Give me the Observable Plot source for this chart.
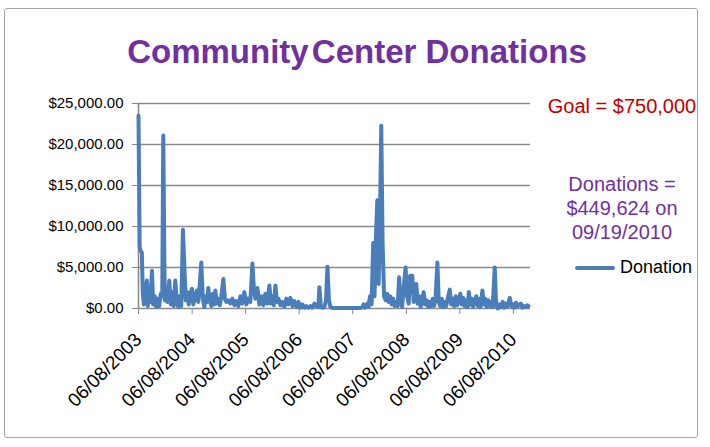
<!DOCTYPE html>
<html>
<head>
<meta charset="utf-8">
<script src="https://cdn.jsdelivr.net/npm/d3@7"></script>
<script src="https://cdn.jsdelivr.net/npm/@observablehq/plot@0.6"></script>
<style>
  html, body { margin: 0; padding: 0; background: #fff; }
  #wrap { position: relative; width: 710px; height: 447px; overflow: hidden; font-family: "Liberation Sans", Arial, sans-serif; }
  #border { position: absolute; left: 4px; top: 8px; width: 694px; height: 430px; border: 1.5px solid #a6a6a6; border-radius: 3px; box-sizing: border-box; }
  #chart { position: absolute; left: 0; top: 0; }
  .txt { position: absolute; white-space: nowrap; text-align: center; line-height: 1; }
  #title { left: 0; width: 714px; top: 35px; font-size: 33px; font-weight: bold; color: #7030A0; }
  #title .w1 { margin-right: -6px; }
  #goal { left: 542px; width: 160px; top: 96px; font-size: 20px; color: #C00000; }
  #don { left: 542px; width: 160px; top: 172px; font-size: 20px; color: #7030A0; line-height: 24px; }
  #legend { position: absolute; left: 575px; top: 257px; font-size: 18px; color: #000; line-height: 20px; }
  #legend span.sw { display: inline-block; width: 40px; height: 4px; background: #4A7EBB; vertical-align: middle; margin-right: 5px; border-radius: 2px; }
</style>
</head>
<body>
<div id="wrap">
  <div id="border"></div>
  <div id="chart"></div>
  <div id="title" class="txt"><span class="w1">Community</span> Center Donations</div>
  <div id="goal" class="txt">Goal = $750,000</div>
  <div id="don" class="txt">Donations =<br>$449,624 on<br>09/19/2010</div>
  <div id="legend"><span class="sw"></span>Donation</div>
</div>
<script>
// First donation date; each donation is given as days elapsed since this date
const firstDonation = "2003-06-08";
const dayOffsets = [
  0, 8, 15, 23, 29, 36, 42, 49, 57, 63, 73, 80, 92, 100, 111, 121, 131, 141, 152, 162,
  169, 179, 186, 196, 210, 220, 230, 240, 251, 261, 271, 281, 292, 303, 312, 322, 333, 343, 353, 365,
  374, 387, 398, 408, 418, 428, 439, 449, 459, 469, 476, 486, 497, 507, 517, 524, 534, 544, 555, 565,
  579, 589, 599, 613, 626, 640, 654, 667, 681, 695, 708, 722, 736, 749, 763, 777, 787, 797, 811, 824,
  838, 852, 865, 879, 893, 903, 913, 923, 934, 944, 954, 968, 981, 995, 1009, 1022, 1036, 1050, 1063, 1077,
  1091, 1104, 1118, 1132, 1145, 1159, 1173, 1186, 1200, 1214, 1227, 1234, 1244, 1255, 1268, 1279, 1289, 1299, 1309, 1323,
  1378, 1446, 1514, 1528, 1535, 1542, 1555, 1562, 1569, 1579, 1590, 1601, 1610, 1620, 1629, 1638, 1648, 1656, 1665, 1675,
  1686, 1696, 1706, 1716, 1727, 1737, 1747, 1757, 1768, 1778, 1788, 1798, 1809, 1822, 1832, 1843, 1853, 1868, 1877, 1895,
  1904, 1914, 1925, 1935, 1945, 1955, 1966, 1976, 1986, 1996, 2007, 2017, 2027, 2039, 2048, 2058, 2068, 2079, 2089, 2099,
  2109, 2123, 2133, 2143, 2154, 2164, 2174, 2184, 2195, 2205, 2215, 2225, 2236, 2246, 2253, 2263, 2273, 2283, 2294, 2304,
  2314, 2324, 2334, 2346, 2355, 2365, 2375, 2386, 2396, 2406, 2416, 2430, 2440, 2451, 2461, 2471, 2485, 2495, 2505, 2515,
  2533, 2543, 2553, 2563, 2574, 2584, 2594, 2608, 2618, 2628, 2642, 2652, 2660
];
const donations = [
  23500, 7500, 7000, 6800, 2000, 500, 3000, 800, 3400, 300, 2000, 800, 4600, 500, 1500, 200, 1200, 300, 1800, 1500,
  21100, 1000, 2500, 800, 3400, 500, 2000, 300, 3400, 1000, 200, 1500, 300, 9600, 5500, 1000, 2000, 500, 1800, 2400,
  500, 1500, 2200, 800, 3000, 5600, 1200, 200, 1500, 800, 2500, 1000, 300, 1800, 500, 2200, 600, 1200, 400, 1500,
  3600, 1200, 800, 1000, 600, 1200, 400, 900, 300, 1500, 600, 2000, 500, 1200, 800, 5500, 2500, 1200, 2500, 500,
  1500, 400, 1800, 600, 2800, 600, 1500, 400, 2800, 800, 1200, 400, 800, 200, 1200, 500, 1300, 300, 900, 200,
  800, 100, 500, 100, 300, 100, 300, 100, 600, 300, 200, 2600, 200, 100, 200, 1000, 5100, 1000, 200, 50,
  50, 50, 50, 200, 500, 100, 300, 600, 200, 1500, 500, 8000, 1500, 9000, 13200, 3000, 12000, 22300, 8000, 1500,
  1000, 1800, 800, 1500, 500, 1200, 300, 800, 300, 3800, 1000, 200, 2500, 5000, 1500, 600, 4000, 4000, 800, 3000,
  600, 1500, 200, 1000, 2000, 500, 1000, 200, 800, 300, 1200, 300, 1500, 5600, 800, 300, 1200, 200, 800, 300,
  1200, 2300, 500, 1200, 300, 1500, 400, 800, 1800, 500, 1300, 300, 1000, 200, 2000, 500, 1200, 200, 1000, 1500,
  300, 1200, 200, 2200, 500, 1200, 200, 1000, 300, 800, 200, 5000, 300, 0, 500, 200, 800, 100, 600, 200,
  1300, 300, 500, 100, 700, 200, 400, 600, 100, 300, 200, 400, 300
];
const yTicks = [0, 5000, 10000, 15000, 20000, 25000];
const xTickLabels = ["06/08/2003", "06/08/2004", "06/08/2005", "06/08/2006", "06/08/2007", "06/08/2008", "06/08/2009", "06/08/2010"];
const axisEnd = "2010-10-03";

const parseMDY = d3.utcParse("%m/%d/%Y");
const start = new Date(firstDonation);
const data = dayOffsets.map((d, i) => ({date: d3.utcDay.offset(start, d), amount: donations[i]}));
const xTicks = xTickLabels.map(parseMDY);

const chart = Plot.plot({
  width: 710,
  height: 447,
  marginLeft: 138,
  marginRight: 180,
  marginTop: 103,
  marginBottom: 139,
  style: {fontFamily: "'Liberation Sans', Arial, sans-serif", fontSize: "15px", color: "#000", background: "transparent", overflow: "visible"},
  x: {type: "utc", domain: [start, new Date(axisEnd)]},
  y: {domain: [0, 25000]},
  marks: [
    Plot.gridY(yTicks, {stroke: "#8a8a8a", strokeOpacity: 1, strokeWidth: 1.6}),
    Plot.ruleX([start], {stroke: "#8a8a8a", strokeWidth: 1.6}),
    Plot.axisY(yTicks, {tickFormat: d3.format("$,.2f"), tickSize: 6, tickPadding: 9, stroke: "#8a8a8a", fontSize: 15, label: null}),
    Plot.axisX(xTicks, {tickFormat: d3.utcFormat("%m/%d/%Y"), tickRotate: -45, tickSize: 6, tickPadding: 22, stroke: "#8a8a8a", fontSize: 19, label: null}),
    Plot.lineY(data, {x: "date", y: "amount", stroke: "#4A7EBB", strokeWidth: 4, strokeLinejoin: "round", strokeLinecap: "round"})
  ]
});
document.getElementById("chart").appendChild(chart);
</script>
</body>
</html>
